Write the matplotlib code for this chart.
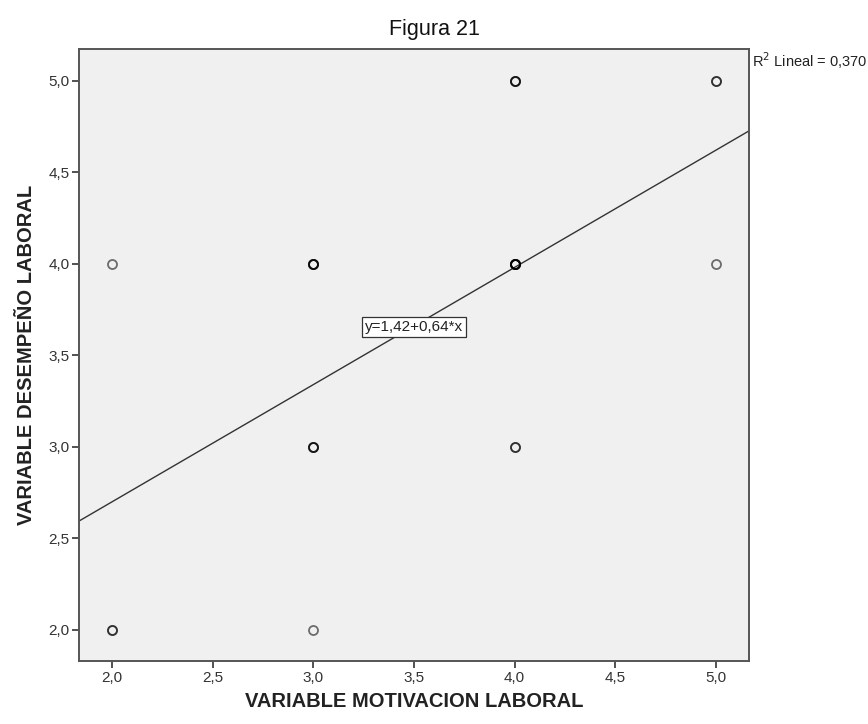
import matplotlib
matplotlib.use("Agg")
import matplotlib.pyplot as plt
from matplotlib.ticker import FuncFormatter

plt.rcParams['font.family'] = ['Liberation Sans', 'DejaVu Sans']

# Observed score pairs (motivation, performance) and how many respondents share each pair
motivacion = [2, 2, 3, 3, 3, 4, 4, 4, 5, 5]
desempeno = [2, 4, 2, 3, 4, 3, 4, 5, 4, 5]
frecuencia = [2, 1, 1, 3, 4, 2, 6, 3, 1, 2]

# Fitted linear model
intercepto = 1.42
pendiente = 0.64
r2 = 0.370

x_ticks = [2.0, 2.5, 3.0, 3.5, 4.0, 4.5, 5.0]
y_ticks = [2.0, 2.5, 3.0, 3.5, 4.0, 4.5, 5.0]

fig = plt.figure(figsize=(8.68, 7.24), dpi=100)
ax = fig.add_axes([79 / 868, 63 / 724, 670 / 868, 612 / 724])
ax.set_facecolor('#F0F0F0')

xlim = (1.835, 5.165)
ylim = (1.83, 5.173)
ax.set_xlim(*xlim)
ax.set_ylim(*ylim)

# Regression line across the full plotting range
ax.plot(xlim, [intercepto + pendiente * v for v in xlim], color='#333333', lw=1.0, zorder=2)

# Repeated points drawn on top of each other so coincident cases look darker
for xv, yv, n in zip(motivacion, desempeno, frecuencia):
    for _ in range(n):
        ax.plot([xv], [yv], marker='o', ms=6.5, mfc='none', mec='black',
                mew=1.3, alpha=0.55, linestyle='none', zorder=3)

ax.text(3.5, 3.655, 'y=1,42+0,64*x', ha='center', va='center', fontsize=11,
        color='#222222',
        bbox=dict(boxstyle='square,pad=0.2', fc='white', ec='#333333', lw=0.9), zorder=4)

coma = FuncFormatter(lambda v, p: f'{v:.1f}'.replace('.', ','))
ax.xaxis.set_major_formatter(coma)
ax.yaxis.set_major_formatter(coma)
ax.set_xticks(x_ticks)
ax.set_yticks(y_ticks)
ax.tick_params(direction='out', length=5, width=1.2, color='#333333',
               labelsize=11, labelcolor='#333333', pad=2)

for s in ax.spines.values():
    s.set_color('#555555')
    s.set_linewidth(1.4)

ax.set_xlabel('VARIABLE MOTIVACION LABORAL', fontsize=14.5, fontweight='bold',
              color='#222222', labelpad=5)
ax.set_ylabel('VARIABLE DESEMPEÑO LABORAL', fontsize=14.5, fontweight='bold',
              color='#222222', labelpad=9)

fig.text(0.5, 1 - 30 / 724, 'Figura 21', ha='center', va='center', fontsize=15.5,
         color='#111111')
fig.text(752 / 868, 1 - 50 / 724, f'R$^2$ Lineal = {r2:.3f}'.replace('.', ','),
         ha='left', va='top', fontsize=10.5, color='#222222')

fig.savefig('out.png', dpi=100)
